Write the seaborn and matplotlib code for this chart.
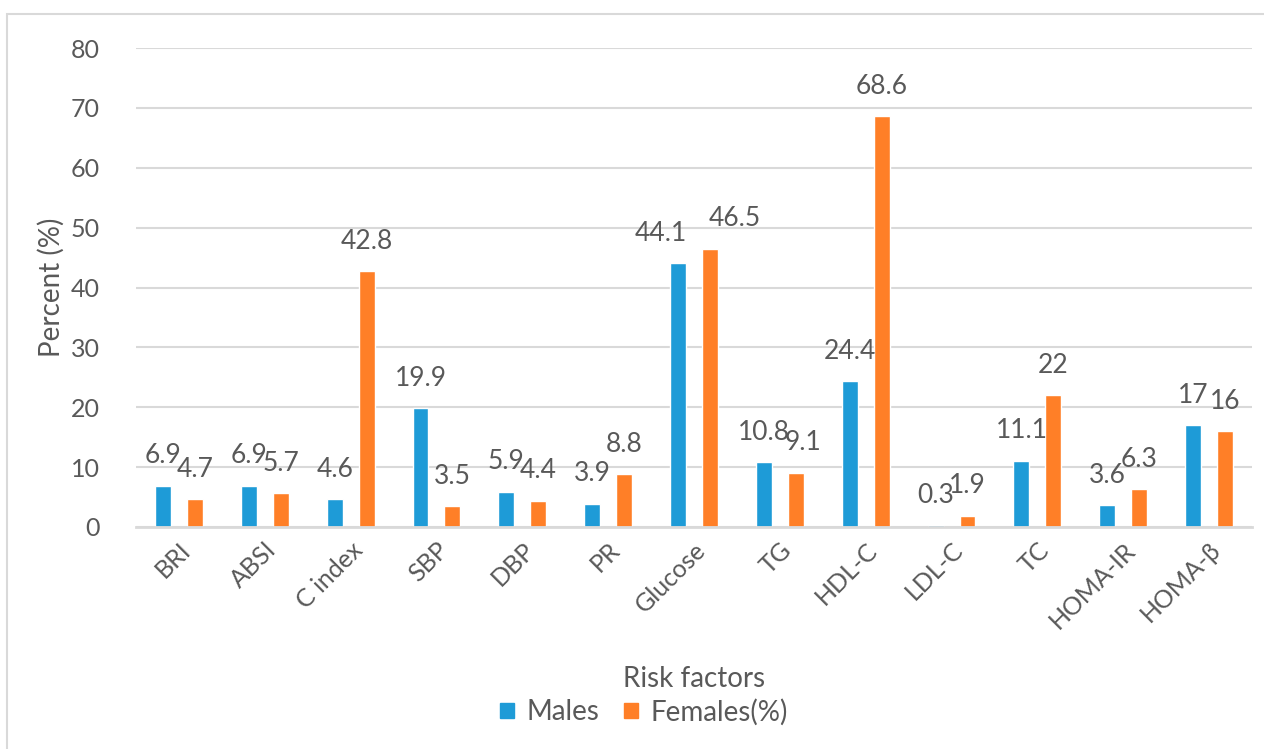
import matplotlib
matplotlib.use("Agg")
import matplotlib.pyplot as plt
import seaborn as sns
import pandas as pd
from matplotlib.patches import Rectangle, Patch

categories = ["BRI", "ABSI", "C index", "SBP", "DBP", "PR", "Glucose", "TG",
              "HDL-C", "LDL-C", "TC", "HOMA-IR", "HOMA-\u03b2"]
males = [6.9, 6.9, 4.6, 19.9, 5.9, 3.9, 44.1, 10.8, 24.4, 0.3, 11.1, 3.6, 17]
females = [4.7, 5.7, 42.8, 3.5, 4.4, 8.8, 46.5, 9.1, 68.6, 1.9, 22, 6.3, 16]
series_names = ["Males", "Females(%)"]
y_ticks = [0, 10, 20, 30, 40, 50, 60, 70, 80]

df = pd.DataFrame({
    "Risk factors": categories * 2,
    "Percent": males + females,
    "Series": [series_names[0]] * len(categories) + [series_names[1]] * len(categories),
})

sns.set_theme(style="white")
plt.rcParams["font.family"] = ["Lato", "DejaVu Sans"]

blue = "#1E9BD7"
orange = "#FF7F27"
text_grey = "#595959"
grid_grey = "#D9D9D9"

fig = plt.figure(figsize=(12.64, 7.49), dpi=100)
ax = fig.add_axes([136 / 1264, 1 - 527 / 749, (1252 - 136) / 1264, (527 - 48) / 749])

sns.barplot(data=df, x="Risk factors", y="Percent", hue="Series",
            palette=[blue, orange], width=0.744, gap=0.5, ax=ax,
            legend=False, saturation=1)

ax.set_ylim(0, 80)
ax.set_yticks(y_ticks)
ax.set_xlim(-0.5, len(categories) - 0.5)
ax.yaxis.grid(True, color=grid_grey, linewidth=1.5)
ax.set_axisbelow(True)
for s in ["top", "right", "left"]:
    ax.spines[s].set_visible(False)
ax.spines["bottom"].set_color(grid_grey)
ax.spines["bottom"].set_linewidth(2)
ax.tick_params(axis="both", length=0, colors=text_grey, labelsize=18)
ax.tick_params(axis="y", pad=26)
plt.setp(ax.get_xticklabels(), rotation=45, ha="right", rotation_mode="anchor")
ax.tick_params(axis="x", pad=8)

ax.set_ylabel("Percent (%)", fontsize=20, color=text_grey, labelpad=4)
ax.set_xlabel("Risk factors", fontsize=20, color=text_grey, labelpad=24)

# value labels above each bar; crowded pairs are nudged apart sideways
nudge_px = {(0, "Glucose"): -17, (1, "Glucose"): 25, (1, "TG"): 7}
for si, container in enumerate(ax.containers):
    for cat, bar, val in zip(categories, container.patches, container.datavalues):
        cx = bar.get_x() + bar.get_width() / 2
        dx = nudge_px.get((si, cat), 0) * 72 / 100
        ax.annotate(f"{val:g}", xy=(cx, val), xytext=(dx, 16),
                    textcoords="offset points", ha="center", va="baseline",
                    fontsize=19, color=text_grey)

handles = [Patch(color=blue), Patch(color=orange)]
fig.legend(handles, series_names, loc="center", bbox_to_anchor=(644 / 1264, 1 - 712 / 749),
           ncol=2, frameon=False, fontsize=20, labelcolor=text_grey,
           handlelength=0.5, handleheight=0.5, handletextpad=0.45, columnspacing=0.9)

fig.patches.append(Rectangle((7 / 1264, -0.02), 1.05, 1 - 14 / 749 + 0.02,
                             transform=fig.transFigure, fill=False,
                             edgecolor=grid_grey, linewidth=1.5, clip_on=False))

fig.savefig("out.png", dpi=100)
